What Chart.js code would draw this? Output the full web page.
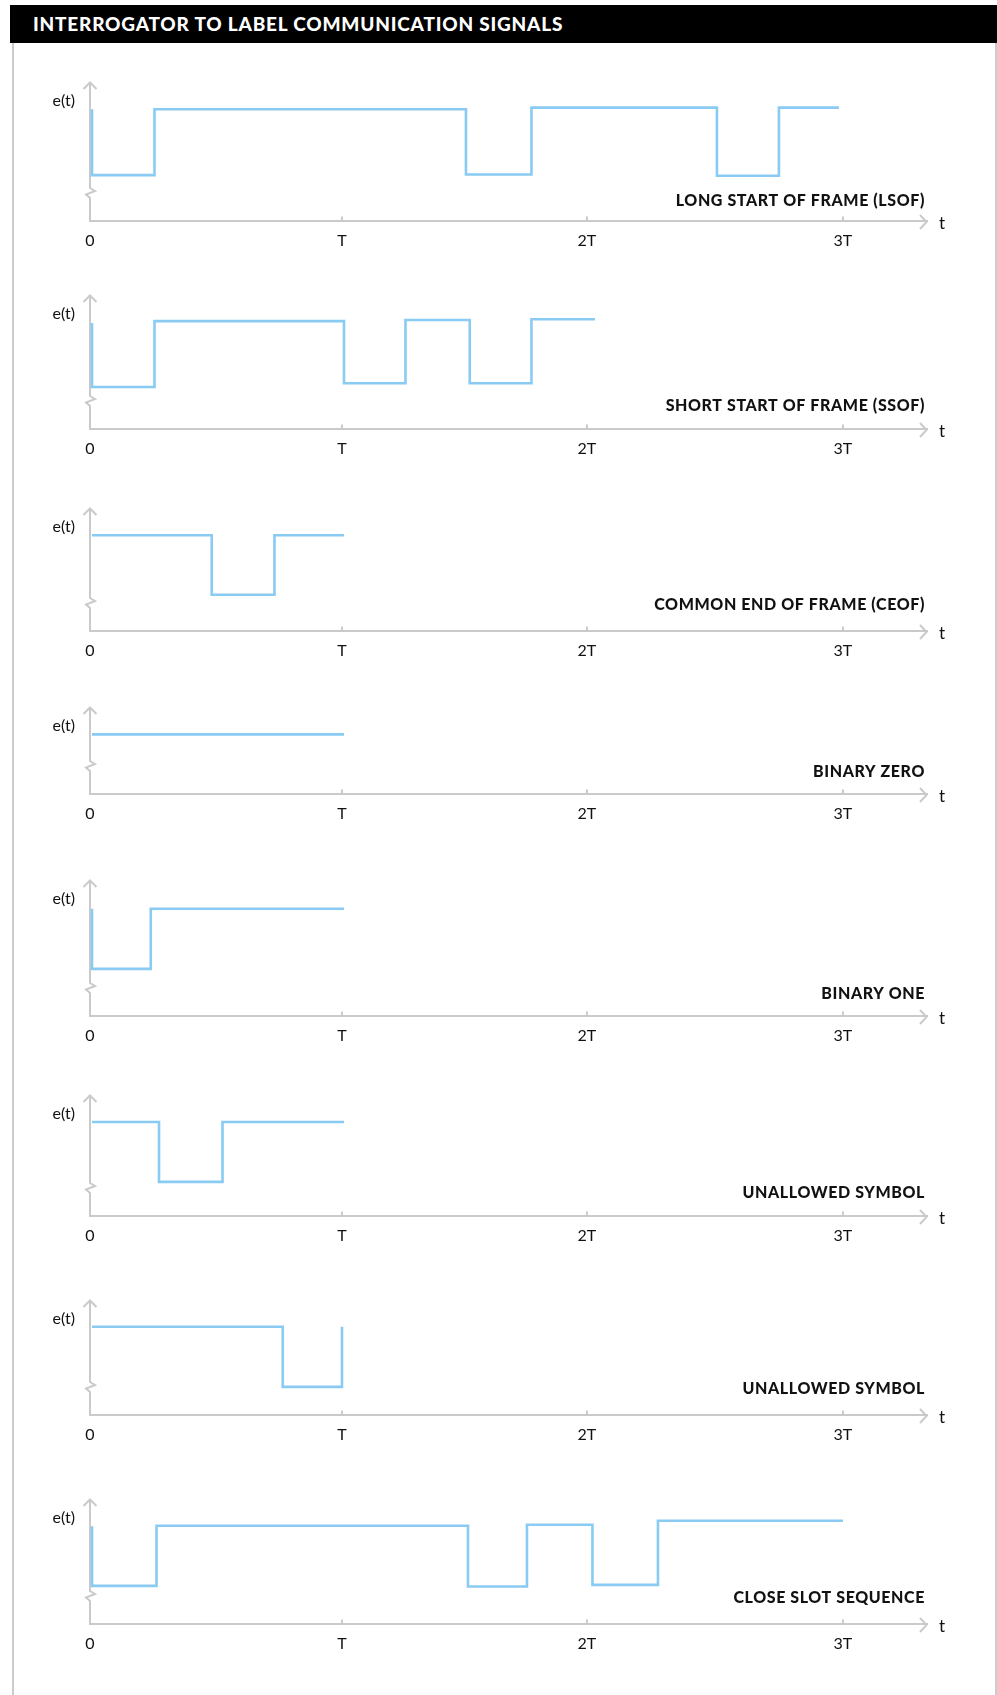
<!DOCTYPE html>
<html>
<head>
<meta charset="utf-8">
<script src="https://cdn.jsdelivr.net/npm/chart.js@4.4.1/dist/chart.umd.min.js"></script>
<style>
html,body{margin:0;padding:0;background:#fff;}
body{width:997px;height:1695px;position:relative;overflow:hidden;}
#hdr{position:absolute;left:10px;top:5px;width:987px;height:38px;background:#000;color:#fff;
  font-family:Lato,"Open Sans",sans-serif;font-weight:900;font-size:19px;letter-spacing:0.8px;
  line-height:38px;padding-left:23px;box-sizing:border-box;white-space:nowrap;}
.bl{position:absolute;left:11.5px;top:43px;width:2.5px;height:1652px;background:#cccccc;}
.br{position:absolute;left:995px;top:43px;width:2px;height:1652px;background:#cccccc;}
canvas{position:absolute;left:0;}
</style>
</head>
<body>
<div id="hdr">INTERROGATOR TO LABEL COMMUNICATION SIGNALS</div>
<div class="bl"></div><div class="br"></div>
<script>
// ---- data ----
const tickValues = [0, 1.004, 1.98, 3.0];
const tickLabels = ['0', 'T', '2T', '3T'];
const yLabel = 'e(t)';
const xLabel = 't';

const panelTitles = [
  'LONG START OF FRAME (LSOF)',
  'SHORT START OF FRAME (SSOF)',
  'COMMON END OF FRAME (CEOF)',
  'BINARY ZERO',
  'BINARY ONE',
  'UNALLOWED SYMBOL',
  'UNALLOWED SYMBOL',
  'CLOSE SLOT SEQUENCE'
];

// edge times (in T) and the level that starts at each edge
const lsofTimes  = [0.008, 0.008, 0.257, 1.498, 1.759, 2.498, 2.745, 2.984];
const lsofLevels = [1.0, 0.0, 1.0, 0.01, 1.025, -0.01, 1.025, 1.025];

const ssofTimes  = [0.008, 0.008, 0.257, 1.012, 1.257, 1.513, 1.759, 2.012];
const ssofLevels = [0.96, -0.03, 0.99, 0.026, 1.008, 0.026, 1.019, 1.019];

const ceofTimes  = [0.008, 0.485, 0.735, 1.012];
const ceofLevels = [1, 0, 1, 1];

const zeroTimes  = [0.008, 1.012];
const zeroLevels = [1, 1];

const oneTimes   = [0.008, 0.008, 0.242, 1.012];
const oneLevels  = [1, 0, 1, 1];

const unallowedATimes  = [0.008, 0.275, 0.528, 1.012];
const unallowedALevels = [1, 0, 1, 1];

const unallowedBTimes  = [0.008, 0.768, 1.004];
const unallowedBLevels = [1, 0, 1];

const closeTimes  = [0.008, 0.008, 0.265, 1.506, 1.741, 2.002, 2.263, 3.0];
const closeLevels = [0.99, 0.0, 1.0, -0.01, 1.017, 0.017, 1.083, 1.083];

const seriesTimes  = [lsofTimes, ssofTimes, ceofTimes, zeroTimes, oneTimes, unallowedATimes, unallowedBTimes, closeTimes];
const seriesLevels = [lsofLevels, ssofLevels, ceofLevels, zeroLevels, oneLevels, unallowedALevels, unallowedBLevels, closeLevels];

// ---- layout (pixels / axis ranges) ----
const layoutTops   = [81.5, 295, 508.3, 706.7, 880, 1095, 1300, 1499.3];  // y-arrow tip
const layoutAxes   = [221, 430, 632.7, 794.3, 1016.7, 1216.7, 1415.7, 1625]; // x-axis centre
const layoutYMin   = [-0.697, -0.682, -0.611, 0, -0.783, -0.57, -0.467, -0.633];
const layoutYMax   = [1.415, 1.395, 1.46, 1.46, 1.478, 1.452, 1.445, 1.445];
const layoutTitleOff = [16, 19.3, 22, 18.3, 17.7, 19.4, 21.7, 21.7];

const AXIS = '#cacaca';
const SIGNAL = '#89cbf2';
const TEXT = '#111111';
const FONT = 'Lato, "Open Sans", sans-serif';
const PAD_TOP = 12, AXIS_H = 40;

const decor = {
  id: 'decor',
  beforeDatasetsDraw(chart, args, o) {
    const {ctx, chartArea: ca, scales: {x}} = chart;
    const x0 = x.getPixelForValue(0);
    const yb = ca.bottom + 1;
    const yt = ca.top;
    const zy = yb - 29;
    ctx.save();
    ctx.strokeStyle = AXIS;
    ctx.lineWidth = 2;
    ctx.lineJoin = 'miter';
    ctx.beginPath();
    ctx.moveTo(x0, yb);
    ctx.lineTo(x0, zy + 5);
    ctx.lineTo(x0 - 4, zy + 1.5);
    ctx.lineTo(x0 + 5, zy - 2);
    ctx.lineTo(x0, zy - 5);
    ctx.lineTo(x0, yt);
    ctx.stroke();
    // y arrow
    ctx.beginPath();
    ctx.moveTo(x0 - 6.5, yt + 7);
    ctx.lineTo(x0, yt + 0.5);
    ctx.lineTo(x0 + 6.5, yt + 7);
    ctx.stroke();
    // x arrow
    const xr = ca.right;
    ctx.beginPath();
    ctx.moveTo(xr - 7, yb - 7);
    ctx.lineTo(xr - 0.5, yb);
    ctx.lineTo(xr - 7, yb + 7);
    ctx.stroke();
    // upward tick marks
    tickValues.forEach((v, i) => {
      if (i === 0) return;
      const px = x.getPixelForValue(v);
      ctx.beginPath();
      ctx.moveTo(px, yb);
      ctx.lineTo(px, yb - 5.5);
      ctx.stroke();
    });
    ctx.restore();
  },
  afterDraw(chart, args, o) {
    const {ctx, chartArea: ca} = chart;
    const yb = ca.bottom + 1;
    const yt = ca.top;
    ctx.save();
    ctx.fillStyle = TEXT;
    ctx.font = '16px ' + FONT;
    ctx.textAlign = 'right';
    ctx.textBaseline = 'alphabetic';
    ctx.fillText(yLabel, 75, yt + 24);
    ctx.textAlign = 'left';
    ctx.font = '17px ' + FONT;
    ctx.fillText(xLabel, ca.right + 12, yb + 6.5);
    ctx.textAlign = 'right';
    ctx.font = '900 16px ' + FONT;
    if ('letterSpacing' in ctx) ctx.letterSpacing = '0.6px';
    ctx.fillText(o.title, 925, yb - o.titleOff);
    ctx.restore();
  }
};

for (let i = 0; i < 8; i++) {
  const top = layoutTops[i] - PAD_TOP;
  const h = Math.round(layoutAxes[i] - 1 - top + AXIS_H);
  const cv = document.createElement('canvas');
  cv.width = 997; cv.height = h;
  cv.style.top = top + 'px';
  cv.style.width = '997px'; cv.style.height = h + 'px';
  document.body.appendChild(cv);
  const pts = seriesTimes[i].map((t, k) => ({x: t, y: seriesLevels[i][k]}));
  new Chart(cv, {
    type: 'line',
    data: {datasets: [{data: pts, stepped: 'before', borderColor: SIGNAL, borderWidth: 2.6,
      pointRadius: 0, fill: false, tension: 0}]},
    options: {
      responsive: false, animation: false, events: [],
      devicePixelRatio: 1,
      layout: {padding: {left: 90, right: 70, top: PAD_TOP, bottom: 0}},
      plugins: {legend: {display: false}, tooltip: {enabled: false},
        decor: {title: panelTitles[i], titleOff: layoutTitleOff[i]}},
      scales: {
        x: {type: 'linear', min: 0, max: 3.335,
          afterBuildTicks: s => { s.ticks = tickValues.map(v => ({value: v})); },
          afterFit: s => { s.height = AXIS_H; },
          ticks: {autoSkip: false, maxRotation: 0, minRotation: 0, padding: 10, color: TEXT,
            font: {family: FONT, size: 16}, callback: (v, k) => tickLabels[k]},
          grid: {display: true, drawOnChartArea: false, drawTicks: false},
          border: {display: true, color: AXIS, width: 2}
        },
        y: {type: 'linear', display: false, min: layoutYMin[i], max: layoutYMax[i]}
      }
    },
    plugins: [decor]
  });
}
</script>
</body>
</html>
